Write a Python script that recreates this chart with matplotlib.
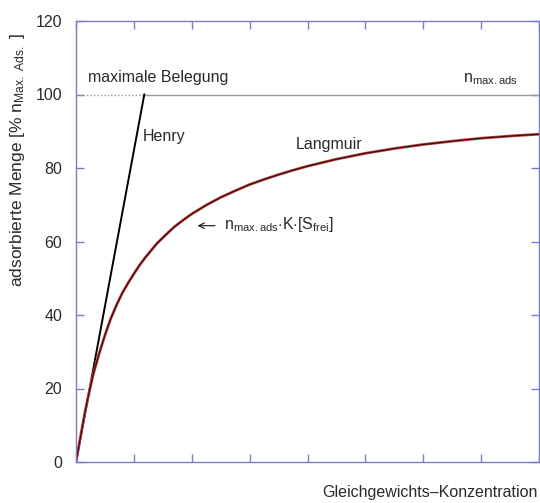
import matplotlib
matplotlib.use("Agg")
import matplotlib.pyplot as plt

plt.rcParams['font.family'] = ['Liberation Sans', 'DejaVu Sans']
plt.rcParams['mathtext.fontset'] = 'custom'
plt.rcParams['mathtext.rm'] = 'Liberation Sans'
plt.rcParams['mathtext.it'] = 'Liberation Sans'

# Data
langmuir_x = [0, 0.05, 0.1, 0.15, 0.2, 0.25, 0.3, 0.4, 0.5, 0.6, 0.7, 0.8, 0.9, 1.0,
              1.1, 1.2, 1.3, 1.4, 1.55, 1.7, 1.85, 2.0, 2.25, 2.5, 2.75, 3.0, 3.25,
              3.5, 3.75, 4.0, 4.5, 5.0, 5.5, 6.0, 6.5, 7.0, 7.5, 8.0]
langmuir_y = [0, 4.4, 8.8, 13.1, 17.0, 20.5, 24.0, 29.5, 34.5, 39.0, 42.7, 46.0, 48.7, 51.2,
              53.6, 55.7, 57.6, 59.5, 61.8, 64.0, 65.8, 67.5, 69.9, 72.0, 73.8, 75.5, 76.9,
              78.2, 79.4, 80.5, 82.4, 84.0, 85.3, 86.4, 87.3, 88.1, 88.7, 89.2]
henry_x = [0, 1.18]
henry_y = [0, 100]
max_level = 100
y_ticks = [0, 20, 40, 60, 80, 100, 120]
x_ticks = [0, 1, 2, 3, 4, 5, 6, 7, 8]

spine_col = '#7b7bc8'
text_col = '#2a2a2a'
fs = 11.5

fig = plt.figure(figsize=(5.40, 5.03), dpi=100)
ax = fig.add_axes([76/540, 41/503, 463/540, 441/503])
ax.set_xlim(0, 8)
ax.set_ylim(0, 120)

# max level lines
ax.plot([0, henry_x[1]], [max_level, max_level], color='#9a9a9a', lw=1.0, ls=(0, (1, 1.5)))
ax.plot([henry_x[1], 8], [max_level, max_level], color='#9a9a9a', lw=1.0)

# Henry
ax.plot(henry_x, henry_y, color='black', lw=1.4)

# Langmuir
ax.plot(langmuir_x, langmuir_y, color='#c04040', lw=2.0, solid_joinstyle='round')
ax.plot(langmuir_x, langmuir_y, color='#3a1010', lw=0.9, solid_joinstyle='round')

for s in ax.spines.values():
    s.set_color(spine_col)
    s.set_linewidth(1.0)

ax.set_xticks(x_ticks)
ax.set_yticks(y_ticks)
ax.tick_params(axis='both', direction='in', length=6, color=spine_col, width=1.0,
               top=True, right=True, labelsize=fs, labelcolor=text_col, pad=10)
ax.tick_params(axis='x', labelbottom=False)

ax.text(0.21, 102.5, 'maximale Belegung', fontsize=fs, color=text_col, ha='left', va='bottom')
ax.text(1.16, 88.5, 'Henry', fontsize=fs, color=text_col, ha='left', va='center')
ax.text(3.8, 86.5, 'Langmuir', fontsize=fs, color=text_col, ha='left', va='center')
ax.text(6.68, 104.3, r'n$_{\mathregular{max.ads}}$', fontsize=fs, color=text_col, ha='left', va='center')

ax.annotate('', xy=(2.05, 64.3), xytext=(2.45, 64.3),
            arrowprops=dict(arrowstyle='->', lw=0.9, color=text_col))
ax.text(2.55, 64.5, r'n$_{\mathregular{max.ads}}$$\cdot$K$\cdot$[S$_{\mathregular{frei}}$]',
        fontsize=fs, color=text_col, ha='left', va='center')

fig.text(18/540, 1 - 160/503, r'adsorbierte Menge [% n$_{\mathregular{Max.\ Ads.}}$ ]',
         rotation=90, fontsize=12.5, color=text_col, ha='center', va='center')
fig.text(538/540, 1 - 492/503, 'Gleichgewichts–Konzentration', fontsize=fs,
         color=text_col, ha='right', va='center')

fig.savefig('out.png', dpi=100)
